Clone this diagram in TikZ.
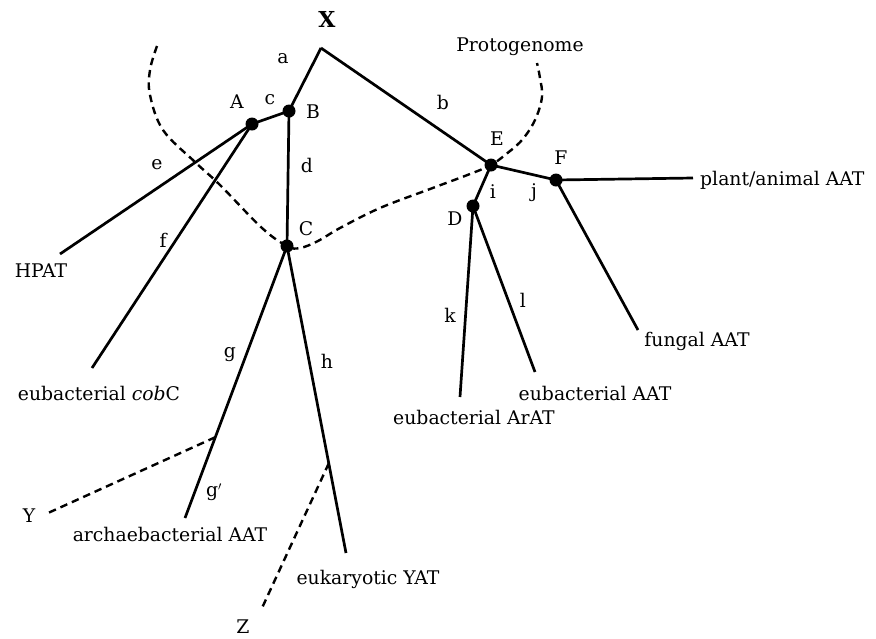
\documentclass[tikz,border=0pt]{standalone}
\usepackage{fontspec}
\setmainfont{DejaVu Serif}
\usetikzlibrary{calc}
\begin{document}
\begin{tikzpicture}[x=1pt,y=-1pt,
  every node/.style={font=\fontsize{18.8}{21}\selectfont, inner sep=0pt},
  br/.style={line width=2.7pt},
  dsh/.style={line width=2.4pt, dash pattern=on 7.5pt off 5pt},
  dot/.style={circle, fill=black, minimum size=13pt, inner sep=0pt}]
\useasboundingbox (0,0) rectangle (876,638);
% internal nodes
\coordinate (R) at (321,48);
\node[dot] (B) at (289,111) {};
\node[dot] (A) at (252,124) {};
\node[dot] (C) at (287,246) {};
\node[dot] (E) at (491,165) {};
\node[dot] (F) at (556,180) {};
\node[dot] (D) at (473,206) {};
% leaf ends
\coordinate (hpat) at (60,254);
\coordinate (cobc) at (92,368);
\coordinate (gend) at (185,518);
\coordinate (hend) at (346,553);
\coordinate (kend) at (460,397);
\coordinate (lend) at (535,372);
\coordinate (fung) at (638,330);
\coordinate (plan) at (693,178);
\coordinate (ystart) at ($(C)!0.703!(gend)$);
\coordinate (zstart) at ($(C)!0.708!(hend)$);
\coordinate (yend) at (48,513);
\coordinate (zend) at (262,608);
% protogenome curve
\draw[dsh] plot[smooth, tension=0.6] coordinates {(157,46) (150,70) (150,95) (163,130) (195,162) (220,185) (262,228) (287,246) (300,248) (318,241) (340,228) (380,208) (430,189) (470,174) (491,165) (505,155) (522,140) (535,120) (542,97) (540,78) (537,63)};
% branches
\draw[br] (R) -- (B.center);
\draw[br] (R) -- (E.center);
\draw[br] (B.center) -- (A.center);
\draw[br] (B.center) -- (C.center);
\draw[br] (A.center) -- (hpat);
\draw[br] (A.center) -- (cobc);
\draw[br] (C.center) -- (gend);
\draw[br] (C.center) -- (hend);
\draw[br] (E.center) -- (D.center);
\draw[br] (E.center) -- (F.center);
\draw[br] (F.center) -- (plan);
\draw[br] (F.center) -- (fung);
\draw[br] (D.center) -- (kend);
\draw[br] (D.center) -- (lend);
\draw[dsh] (ystart) -- (yend);
\draw[dsh] (zstart) -- (zend);
% node letters
\node (lX) at (327,19) {\fontsize{22}{24}\selectfont\textbf{X}};
\node (lA) at (237,102) {A};
\node (lB) at (313,112) {B};
\node (lC) at (306,229) {C};
\node (lD) at (455,219) {D};
\node (lE) at (497,139) {E};
\node (lF) at (561,158) {F};
\node (lY) at (29,516) {Y};
\node (lZ) at (243,627) {Z};
% branch letters
\node (la) at (283,59) {a};
\node (lb) at (443,102) {b};
\node (lc) at (270,100) {c};
\node (ld) at (307,165) {d};
\node (le) at (157,165) {e};
\node (lf) at (163,240) {f};
\node (lg) at (230,355) {g};
\node (lg2) at (214,492) {g$'$};
\node (lh) at (327,361) {h};
\node (li) at (493,192) {i};
\node (lj) at (534,193) {j};
\node (lk) at (450,315) {k};
\node (ll) at (523,300) {l};
% leaf labels
\node (tP) at (520,47) {Protogenome};
\node[anchor=west] (tplan) at (700,180) {plant/animal AAT};
\node (tfung) at (697,341) {fungal AAT};
\node (teAAT) at (595,393) {eubacterial AAT};
\node (tArAT) at (474,417) {eubacterial ArAT};
\node (tHPAT) at (41,271) {HPAT};
\node (tcob) at (99,393) {eubacterial \textit{cob}C};
\node (tarch) at (170,534) {archaebacterial AAT};
\node (tyat) at (368,579) {eukaryotic YAT};
\end{tikzpicture}
\end{document}
